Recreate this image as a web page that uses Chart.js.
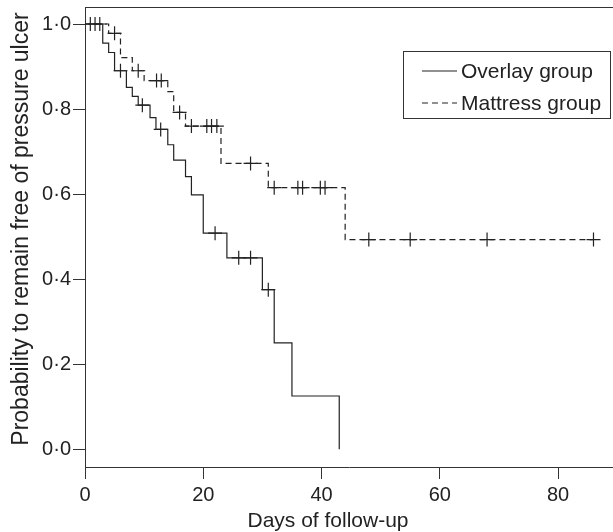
<!DOCTYPE html>
<html>
<head>
<meta charset="utf-8">
<script src="https://cdn.jsdelivr.net/npm/chart.js@4/dist/chart.umd.min.js"></script>
<style>
  html, body { margin: 0; padding: 0; background: #fff; }
  #caixa { width: 613px; height: 532px; }
</style>
</head>
<body>
<div id="caixa"><canvas id="grafico"></canvas></div>
<script>
// Kaplan-Meier curves
const overlayDays = [0, 3, 4, 5, 7, 8, 9, 11, 12, 14, 15, 17, 18, 20, 24, 30, 32, 35, 43];
const overlaySurv = [1, 0.955, 0.933, 0.89, 0.851, 0.83, 0.809, 0.78, 0.752, 0.716, 0.68, 0.641, 0.598, 0.508, 0.45, 0.375, 0.25, 0.125, 0];
const overlayCensor = [0.9, 1.7, 2.5, 6, 9.7, 12.8, 22, 26, 28, 31];

const mattressDays = [0, 4, 6, 8, 10, 14, 15, 17, 23, 31, 44, 86];
const mattressSurv = [1, 0.978, 0.921, 0.89, 0.867, 0.841, 0.792, 0.76, 0.672, 0.615, 0.493, 0.493];
const mattressCensor = [5, 9, 12.1, 12.9, 16, 18, 20.6, 21.4, 22.3, 28, 32, 36, 36.8, 39.8, 40.6, 48, 55, 68, 86];

const xTicks = [0, 20, 40, 60, 80];
const yTicks = ["0·0", "0·2", "0·4", "0·6", "0·8", "1·0"];

const legendLabels = ["Overlay group", "Mattress group"];
const xTitle = "Days of follow-up";
const yTitle = "Probability to remain free of pressure ulcer";

const fonte = "'Liberation Sans', Arial, sans-serif";
const tinta = "#222";

function pontos(dias, surv) {
  return dias.map((d, i) => ({ x: d, y: surv[i] }));
}

// survival value of the step curve at time t (censor marks sit on the curve)
function noDegrau(dias, surv, t) {
  let v = surv[0];
  for (let i = 0; i < dias.length; i++) {
    if (dias[i] <= t) v = surv[i];
  }
  return v;
}

function marcas(censuras, dias, surv) {
  return censuras.map(t => ({ x: t, y: noDegrau(dias, surv, t) }));
}

const extras = {
  id: "extras",
  afterDraw(chart) {
    const { ctx, chartArea } = chart;
    ctx.save();
    // top frame line
    ctx.strokeStyle = "#333";
    ctx.lineWidth = 1;
    ctx.beginPath();
    ctx.moveTo(chartArea.left, chartArea.top + 0.5);
    ctx.lineTo(chartArea.right, chartArea.top + 0.5);
    ctx.stroke();

    // axis titles
    ctx.fillStyle = tinta;
    ctx.textAlign = "center";
    ctx.textBaseline = "middle";
    ctx.font = "21px " + fonte;
    ctx.fillText(xTitle, 328, 521);
    ctx.font = "23px " + fonte;
    ctx.translate(22, 229);
    ctx.rotate(-Math.PI / 2);
    ctx.fillText(yTitle, 0, 0);
    ctx.restore();

    // legend box
    ctx.save();
    ctx.strokeStyle = "#333";
    ctx.lineWidth = 1;
    ctx.strokeRect(403.5, 51.5, 207, 67);
    ctx.strokeStyle = tinta;
    ctx.lineWidth = 1.2;
    const linhas = [71, 103];
    linhas.forEach((yy, i) => {
      ctx.setLineDash(i === 0 ? [] : [6, 4]);
      ctx.beginPath();
      ctx.moveTo(422, yy);
      ctx.lineTo(457, yy);
      ctx.stroke();
    });
    ctx.setLineDash([]);
    ctx.fillStyle = tinta;
    ctx.font = "21px " + fonte;
    ctx.textAlign = "left";
    ctx.textBaseline = "middle";
    linhas.forEach((yy, i) => ctx.fillText(legendLabels[i], 461, yy + 1));
    ctx.restore();
  }
};

const ctx = document.getElementById("grafico");

new Chart(ctx, {
  type: "scatter",
  data: {
    datasets: [
      {
        label: legendLabels[0],
        data: pontos(overlayDays, overlaySurv),
        showLine: true,
        stepped: true,
        borderColor: tinta,
        borderWidth: 1.2,
        pointRadius: 0
      },
      {
        label: legendLabels[1],
        data: pontos(mattressDays, mattressSurv),
        showLine: true,
        stepped: true,
        borderColor: tinta,
        borderWidth: 1.2,
        borderDash: [6, 4],
        pointRadius: 0
      },
      {
        label: "censor overlay",
        data: marcas(overlayCensor, overlayDays, overlaySurv),
        pointStyle: "cross",
        pointRadius: 7,
        borderColor: tinta,
        borderWidth: 1.2
      },
      {
        label: "censor mattress",
        data: marcas(mattressCensor, mattressDays, mattressSurv),
        pointStyle: "cross",
        pointRadius: 7,
        borderColor: tinta,
        borderWidth: 1.2
      }
    ]
  },
  options: {
    responsive: true,
    maintainAspectRatio: false,
    animation: false,
    events: [],
    layout: { autoPadding: false, padding: { top: 7, right: 0, left: 0, bottom: 0 } },
    plugins: {
      legend: { display: false },
      tooltip: { enabled: false }
    },
    scales: {
      x: {
        type: "linear",
        min: 0,
        max: 89.3,
        afterFit: s => { s.height = 65; s.paddingLeft = 0; s.paddingRight = 0; },
        afterBuildTicks: s => { s.ticks = xTicks.map(v => ({ value: v })); },
        border: { display: true, color: "#333", width: 1 },
        grid: { display: true, drawOnChartArea: false, drawTicks: true, tickLength: 12, color: "#333" },
        ticks: { color: tinta, font: { family: fonte, size: 20 }, padding: 4, maxRotation: 0 }
      },
      y: {
        type: "linear",
        min: -0.042,
        max: 1.04,
        afterFit: s => { s.width = 85; s.paddingTop = 0; s.paddingBottom = 0; },
        afterBuildTicks: s => { s.ticks = yTicks.map((t, i) => ({ value: i * 0.2 })); },
        border: { display: true, color: "#333", width: 1 },
        grid: { display: true, drawOnChartArea: false, drawTicks: true, tickLength: 12, color: "#333" },
        ticks: {
          color: tinta,
          font: { family: fonte, size: 20 },
          padding: 2,
          callback: (v, i) => yTicks[i]
        }
      }
    }
  },
  plugins: [extras]
});
</script>
</body>
</html>
